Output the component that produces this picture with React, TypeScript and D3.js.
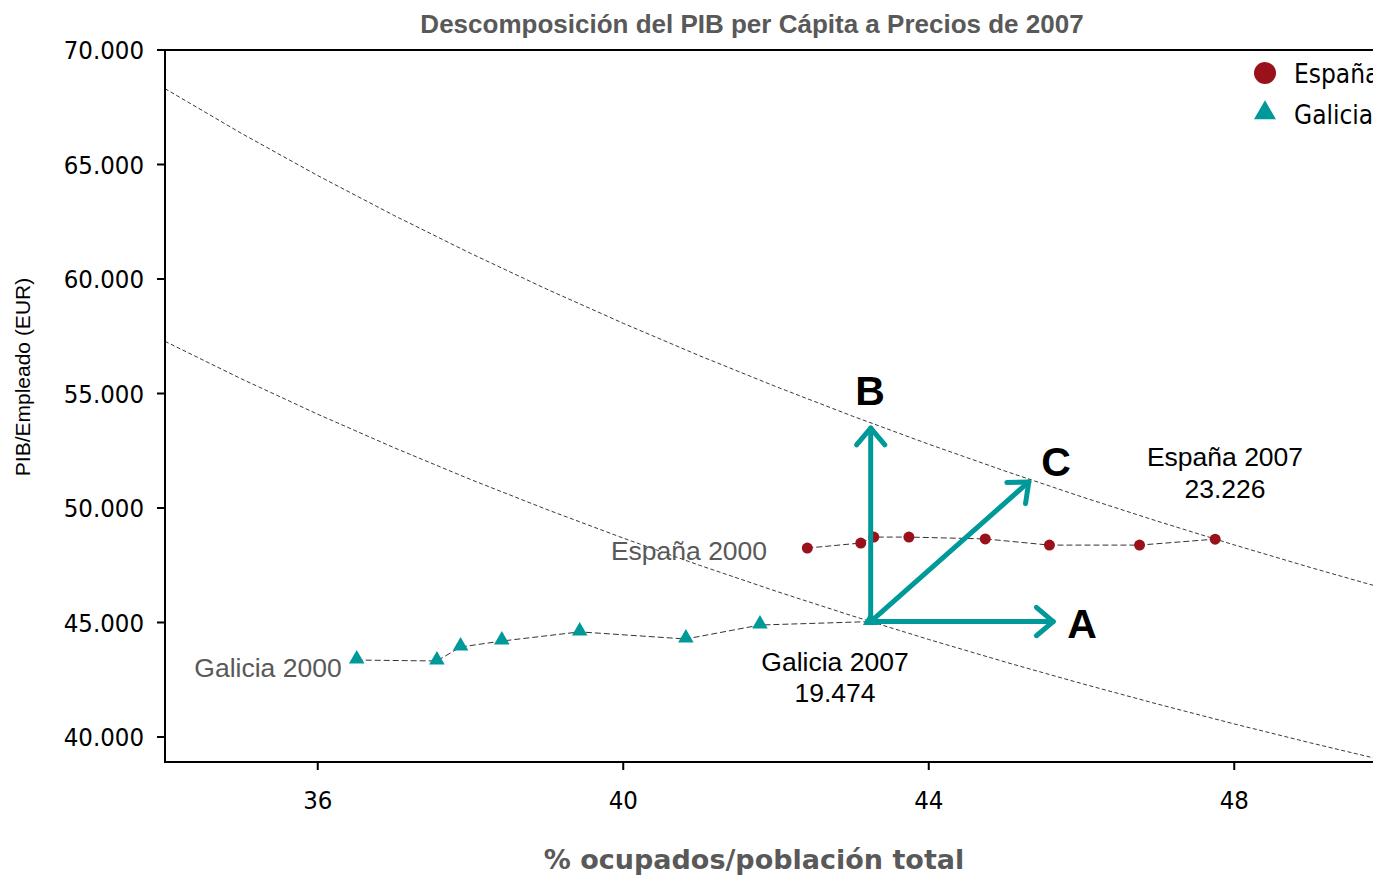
import React from "react";
import * as d3 from "d3";

// ---- Data ----
const galiciaX = [36.51, 37.56, 37.87, 38.41, 39.43, 40.82, 41.79, 43.24];
const galiciaY = [43360, 43320, 43930, 44190, 44590, 44280, 44890, 45040];
const espanaX = [42.41, 43.11, 43.28, 43.74, 44.74, 45.58, 46.76, 47.75];
const espanaY = [48250, 48470, 48730, 48730, 48650, 48380, 48380, 48640];
const isoValues = [23226, 19474]; // PIB per cápita (España 2007, Galicia 2007)
const isoX = [34, 35, 36, 37, 38, 39, 40, 41, 42, 43, 44, 45, 46, 47, 48, 49, 50];
const xTicks = [36, 40, 44, 48];
const yTicks = [40000, 45000, 50000, 55000, 60000, 65000, 70000];
// arrows from Galicia 2007: A (employment), B (productivity), C (both)
const arrowEnds = [
  { name: "A", x: 45.63, y: 45040 },
  { name: "B", x: 43.24, y: 53490 },
  { name: "C", x: 45.31, y: 51140 },
];

const TEAL = "#009999";
const RED = "#99111B";
const GRAY = "#595959";

export default function App() {
  const left = 165, right = 1387, top = 50, bottom = 762;
  const x = d3.scaleLinear().domain([34, 50]).range([left, right]);
  const y = d3.scaleLinear().domain([40000, 70000]).range([737, top]);
  const fmt = (v: number) => (v / 1000).toFixed(3);

  const line = d3.line<[number, number]>().x((d) => x(d[0])).y((d) => y(d[1]));
  const isoPaths = isoValues.map((k) => line(isoX.map((v) => [v, (k / v) * 100] as [number, number])) || "");
  const galPath = line(galiciaX.map((v, i) => [v, galiciaY[i]] as [number, number])) || "";
  const espPath = line(espanaX.map((v, i) => [v, espanaY[i]] as [number, number])) || "";

  const ox = x(galiciaX[galiciaX.length - 1]);
  const oy = y(galiciaY[galiciaY.length - 1]);
  const tri = d3.symbol().type(d3.symbolTriangle).size(105)() || "";
  const triLegend = d3.symbol().type(d3.symbolTriangle).size(210)() || "";

  const arrowHead = (x1: number, y1: number, x2: number, y2: number) => {
    const ang = Math.atan2(y2 - y1, x2 - x1);
    const L = 22, a = (40 * Math.PI) / 180;
    const p1 = [x2 - L * Math.cos(ang - a), y2 - L * Math.sin(ang - a)];
    const p2 = [x2 - L * Math.cos(ang + a), y2 - L * Math.sin(ang + a)];
    return `M${p1[0]},${p1[1]}L${x2},${y2}L${p2[0]},${p2[1]}`;
  };

  const tickFont = "'DejaVu Sans Condensed', 'DejaVu Sans', sans-serif";
  const arial = "'Liberation Sans', Arial, sans-serif";

  return (
    <svg width={1373} height={875} style={{ position: "absolute", left: 0, top: 0, background: "#fff" }}>
      <defs>
        <clipPath id="plot">
          <rect x={left} y={top} width={right - left} height={bottom - top} />
        </clipPath>
      </defs>
      <rect x={0} y={0} width={1373} height={875} fill="#fff" />
      {/* title */}
      <text x={752} y={33} textAnchor="middle" fontFamily={arial} fontWeight="bold" fontSize={26} fill={GRAY}>
        Descomposición del PIB per Cápita a Precios de 2007
      </text>

      {/* iso curves */}
      <g clipPath="url(#plot)">
        {isoPaths.map((p, i) => (
          <path key={i} d={p} fill="none" stroke="#222" strokeWidth={0.9} strokeDasharray="4,2.5" />
        ))}
      </g>

      {/* axes */}
      <line x1={left} x2={1373} y1={top} y2={top} stroke="#000" strokeWidth={2} />
      <line x1={left} x2={left} y1={top - 1} y2={bottom + 1} stroke="#000" strokeWidth={2} />
      <line x1={left - 1} x2={1373} y1={bottom} y2={bottom} stroke="#000" strokeWidth={2} />
      {yTicks.map((t) => (
        <g key={t}>
          <line x1={left - 8} x2={left} y1={y(t)} y2={y(t)} stroke="#000" strokeWidth={2} />
          <text x={left - 21} y={y(t) + 9} textAnchor="end" fontFamily={tickFont} fontSize={25.5} fill="#000">
            {fmt(t)}
          </text>
        </g>
      ))}
      {xTicks.map((t) => (
        <g key={t}>
          <line x1={x(t)} x2={x(t)} y1={bottom} y2={bottom + 8} stroke="#000" strokeWidth={2} />
          <text x={x(t)} y={bottom + 47} textAnchor="middle" fontFamily={tickFont} fontSize={25.5} fill="#000">
            {t}
          </text>
        </g>
      ))}
      <text
        x={754}
        y={869}
        textAnchor="middle"
        fontFamily="'DejaVu Sans', Verdana, sans-serif"
        fontWeight="bold"
        fontSize={27}
        fill={GRAY}
      >
        % ocupados/población total
      </text>
      <text
        transform={`translate(30,377) rotate(-90)`}
        textAnchor="middle"
        fontFamily={arial}
        fontSize={21}
        fill="#000"
      >
        PIB/Empleado (EUR)
      </text>

      {/* data lines */}
      <path d={galPath} fill="none" stroke="#333" strokeWidth={1} strokeDasharray="6,3" />
      <path d={espPath} fill="none" stroke="#333" strokeWidth={1} strokeDasharray="6,3" />
      {galiciaX.map((v, i) => (
        <path key={i} d={tri} transform={`translate(${x(v)},${y(galiciaY[i]) - 1})`} fill={TEAL} />
      ))}
      {espanaX.map((v, i) => (
        <circle key={i} cx={x(v)} cy={y(espanaY[i])} r={5.5} fill={RED} />
      ))}

      {/* arrows */}
      {arrowEnds.map((a) => {
        const ex = x(a.x), ey = y(a.y);
        return (
          <g key={a.name}>
            <line x1={ox} y1={oy} x2={ex} y2={ey} stroke={TEAL} strokeWidth={5} strokeLinecap="round" />
            <path d={arrowHead(ox, oy, ex, ey)} fill="none" stroke={TEAL} strokeWidth={5} strokeLinecap="round" strokeLinejoin="round" />
          </g>
        );
      })}
      <text x={870} y={405} textAnchor="middle" fontFamily={arial} fontWeight="bold" fontSize={41} fill="#000">B</text>
      <text x={1056} y={476} textAnchor="middle" fontFamily={arial} fontWeight="bold" fontSize={41} fill="#000">C</text>
      <text x={1082} y={638} textAnchor="middle" fontFamily={arial} fontWeight="bold" fontSize={41} fill="#000">A</text>

      {/* annotations */}
      <text x={1225} y={466} textAnchor="middle" fontFamily={arial} fontSize={26.5} fill="#000">España 2007</text>
      <text x={1225} y={498} textAnchor="middle" fontFamily={arial} fontSize={26.5} fill="#000">{fmt(isoValues[0])}</text>
      <text x={835} y={671} textAnchor="middle" fontFamily={arial} fontSize={26.5} fill="#000">Galicia 2007</text>
      <text x={835} y={702} textAnchor="middle" fontFamily={arial} fontSize={26.5} fill="#000">{fmt(isoValues[1])}</text>
      <text x={689} y={560} textAnchor="middle" fontFamily={arial} fontSize={26.5} fill={GRAY}>España 2000</text>
      <text x={268} y={677} textAnchor="middle" fontFamily={arial} fontSize={26.5} fill={GRAY}>Galicia 2000</text>

      {/* legend */}
      <circle cx={1265} cy={73} r={11} fill={RED} />
      <text x={1294} y={83} fontFamily={tickFont} fontSize={26} fill="#000">España</text>
      <path d={triLegend} transform={`translate(1265,113)`} fill={TEAL} />
      <text x={1294} y={124} fontFamily={tickFont} fontSize={26} fill="#000">Galicia</text>
    </svg>
  );
}
